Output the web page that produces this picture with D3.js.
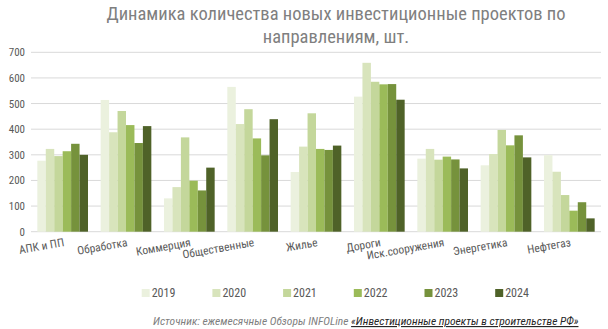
<!DOCTYPE html>
<html><head><meta charset="utf-8">
<script src="https://cdn.jsdelivr.net/npm/d3@7"></script>
<style>
body{margin:0;background:#fff;}
text{font-family:"Liberation Sans Narrow","Roboto Condensed","Arial Narrow",Roboto,sans-serif;}
</style></head>
<body><svg id="c" width="608" height="329"></svg>
<script>
const categories = ["АПК и ПП","Обработка","Коммерция","Общественные","Жилье","Дороги","Иск.сооружения","Энергетика","Нефтегаз"];
const years = ["2019","2020","2021","2022","2023","2024"];
const colors = ["#ebf1de","#d8e4bc","#c4d79b","#9bbb59","#76923c","#4f6228"];
const v2019 = [277,514,130,565,233,527,285,259,299];
const v2020 = [323,388,174,420,332,659,323,303,234];
const v2021 = [295,471,368,478,462,585,281,397,143];
const v2022 = [314,416,199,364,323,575,293,337,82];
const v2023 = [343,346,161,298,319,576,282,376,115];
const v2024 = [300,412,250,439,336,515,247,290,52];
const series = [v2019,v2020,v2021,v2022,v2023,v2024];
const yTicks = [0,100,200,300,400,500,600,700];

const svg = d3.select("#c");
const m = {l:31, r:7, t:52, b:98};
const W = 608, H = 329;
const x = d3.scaleBand().domain(categories).range([31,601]).paddingInner(0.2).paddingOuter(0.1);
const x1 = d3.scaleBand().domain(years).range([0,x.bandwidth()]);
const y = d3.scaleLinear().domain([0,700]).range([231.7,52.3]);

// title
const title = svg.append("text").attr("x",336).attr("text-anchor","middle")
  .attr("fill","#7f7f7f").style("font-size","18.5px");
title.append("tspan").attr("x",336).attr("y",20).text("Динамика количества новых инвестиционные проектов по");
title.append("tspan").attr("x",336).attr("y",43).text("направлениям, шт.");

// grid
svg.append("g").selectAll("line").data(yTicks).join("line")
  .attr("x1",31).attr("x2",601).attr("y1",d=>y(d)).attr("y2",d=>y(d))
  .attr("stroke","#d9d9d9").attr("stroke-width",1);

// y axis labels
const ya = svg.append("g").attr("transform","translate(31,0)")
  .call(d3.axisLeft(y).tickValues(yTicks).tickSize(0).tickPadding(6));
ya.select(".domain").remove();
ya.selectAll("text").attr("fill","#595959").style("font-size","11px")
  .style("font-family","'Liberation Sans Narrow','Roboto Condensed',Roboto,sans-serif");

// bars
const data = [];
categories.forEach((c,i)=>years.forEach((yr,j)=>data.push({c,yr,v:series[j][i],j})));
svg.append("g").selectAll("rect").data(data).join("rect")
  .attr("x",d=>x(d.c)+x1(d.yr)).attr("width",x1.bandwidth())
  .attr("y",d=>y(d.v)).attr("height",d=>y(0)-y(d.v))
  .attr("fill",d=>colors[d.j]);

// x labels
svg.append("g").selectAll("text").data(categories).join("text")
  .attr("transform",d=>`translate(${x(d)+x.bandwidth()/2+2},${246}) rotate(-10)`)
  .attr("text-anchor","end").attr("fill","#595959").style("font-size","11.5px")
  .text(d=>d);

// legend
const lg = svg.append("g").selectAll("g").data(years).join("g")
  .attr("transform",(d,i)=>`translate(${141.7+i*70.7},289)`);
lg.append("rect").attr("width",8).attr("height",8).attr("fill",(d,i)=>colors[i]);
lg.append("text").attr("x",10).attr("y",8).attr("fill","#595959").style("font-size","12px").text(d=>d);

// source
const src = svg.append("text").attr("x",153).attr("y",325).style("font-size","11.5px").style("font-style","italic");
src.append("tspan").attr("fill","#7f7f7f").text("Источник: ежемесячные Обзоры INFOLine ");
src.append("tspan").attr("fill","#262626").attr("text-decoration","underline").text("«Инвестиционные проекты в строительстве РФ»");
</script></body></html>
